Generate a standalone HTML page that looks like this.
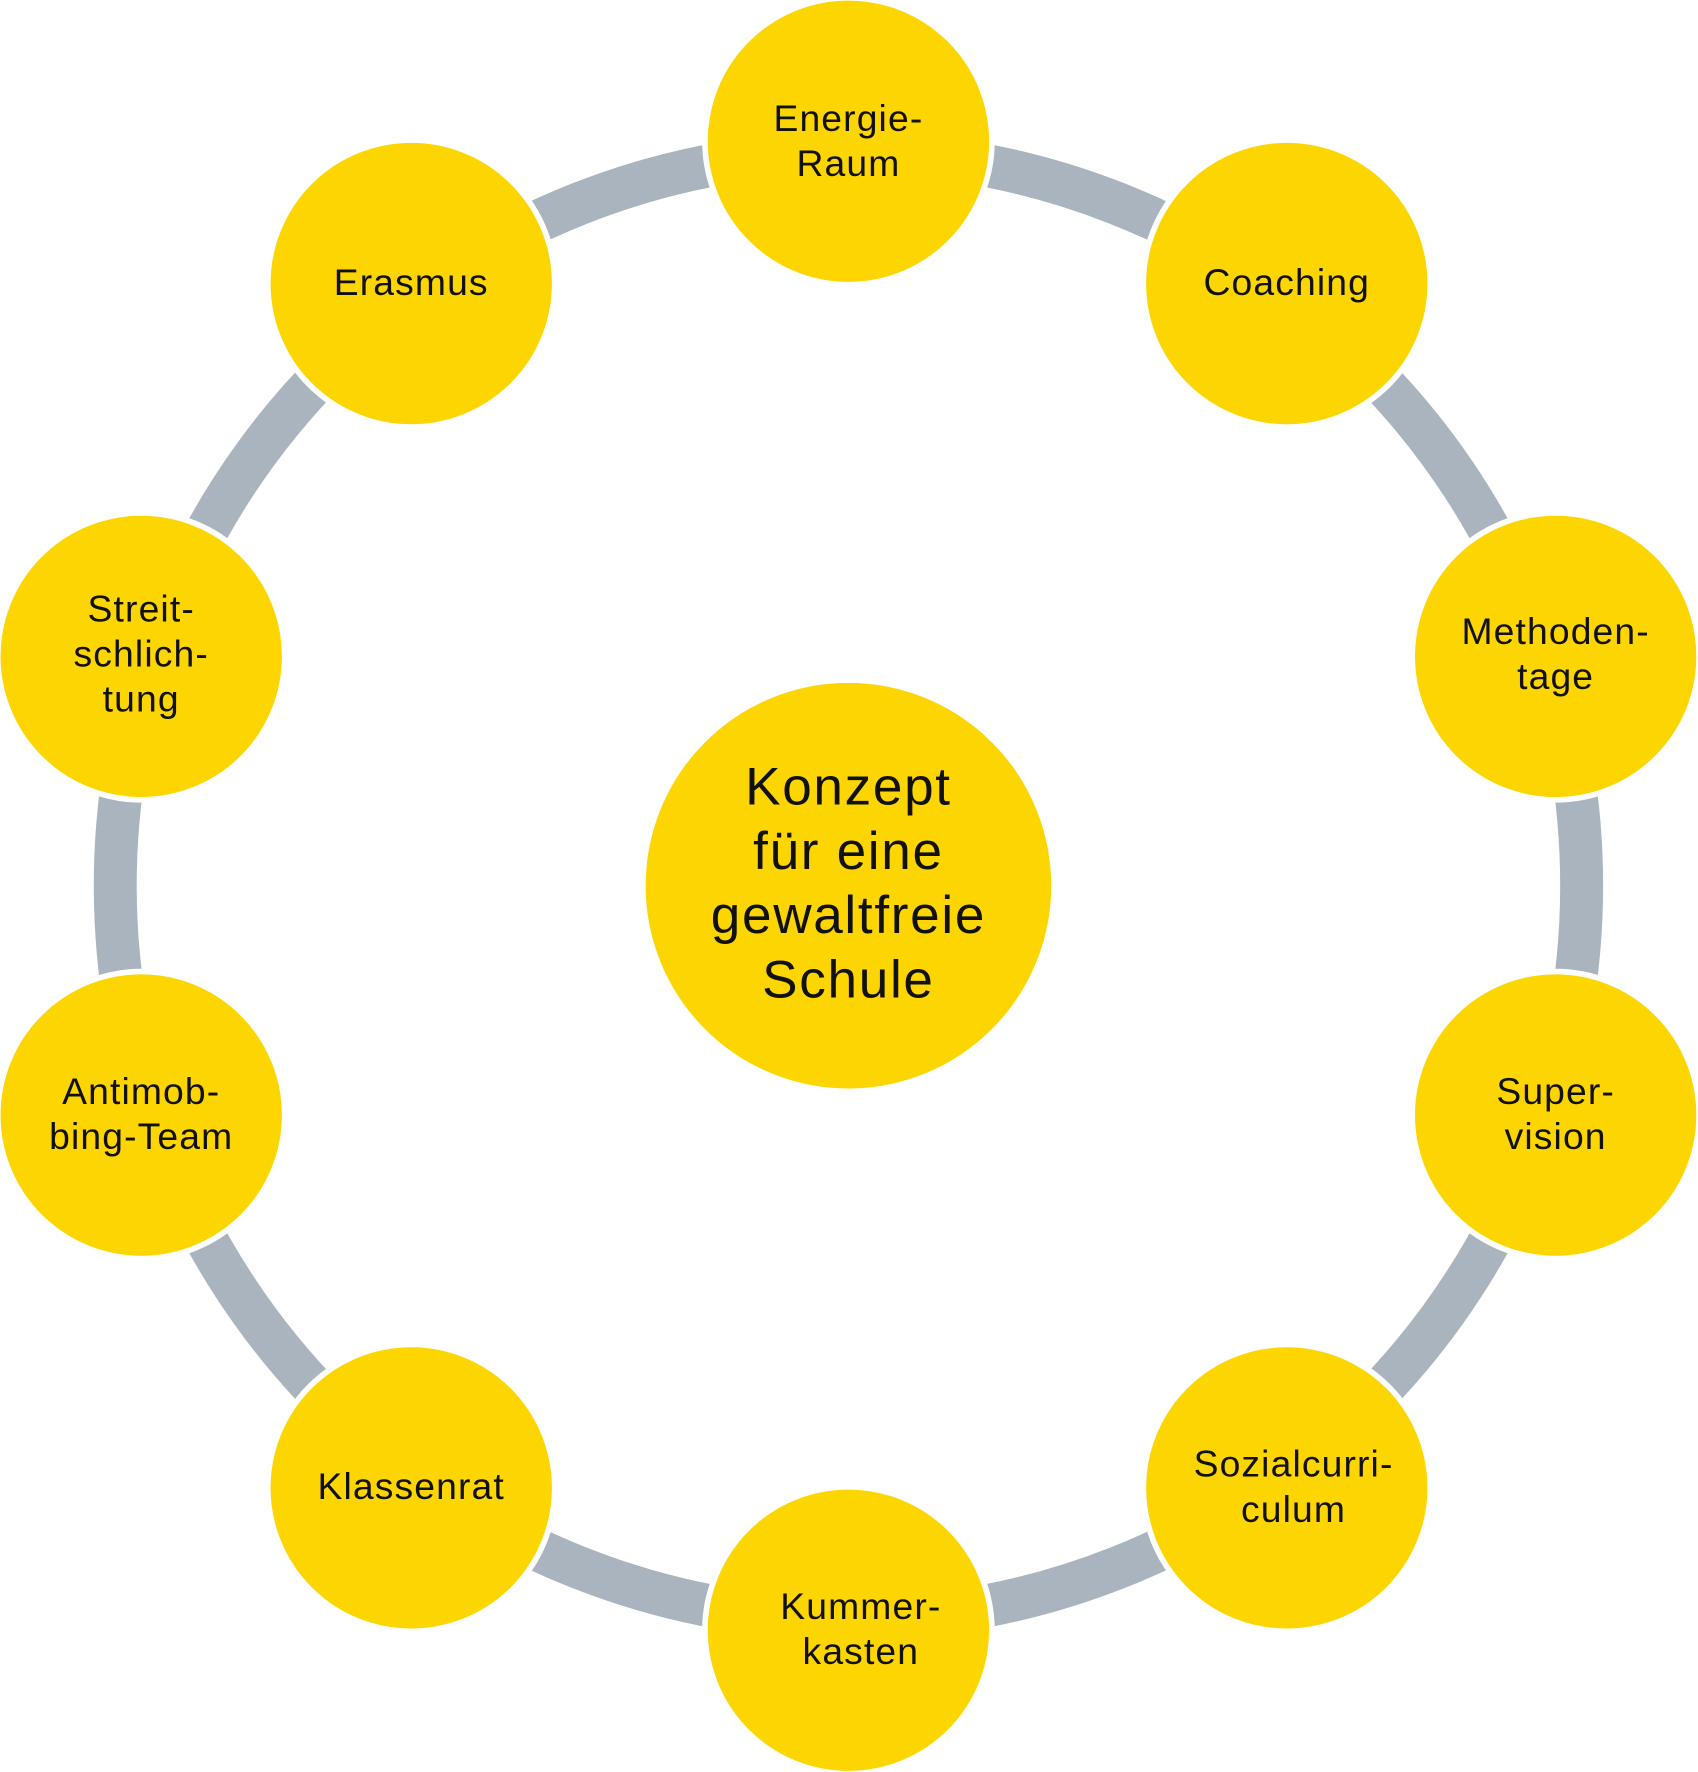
<!DOCTYPE html>
<html><head><meta charset="utf-8"><style>
html,body{margin:0;padding:0;background:#fff;}
svg{display:block;}
text{font-family:"Liberation Sans",sans-serif;fill:#111;text-anchor:middle;}
</style></head><body>
<svg width="1698" height="1772" viewBox="0 0 1503 1568.5" xmlns="http://www.w3.org/2000/svg">
<circle cx="751" cy="784" r="649" fill="none" stroke="#A9B4BF" stroke-width="38"/>
<g fill="#FDD500" stroke="#fff" stroke-width="5">
<circle cx="751" cy="784" r="182"/>
<circle cx="751" cy="125" r="127"/>
<circle cx="1139" cy="251" r="127"/>
<circle cx="1377" cy="581" r="127"/>
<circle cx="1377" cy="987" r="127"/>
<circle cx="1139" cy="1317" r="127"/>
<circle cx="751" cy="1443" r="127"/>
<circle cx="364" cy="1317" r="127"/>
<circle cx="125" cy="987" r="127"/>
<circle cx="125" cy="581" r="127"/>
<circle cx="364" cy="251" r="127"/>
</g>
<g font-size="47" letter-spacing="1.5">
<text x="751" y="712">Konzept</text>
<text x="751" y="769">für eine</text>
<text x="751" y="826">gewaltfreie</text>
<text x="751" y="883">Schule</text>
</g>
<g font-size="33" letter-spacing="1">
<text x="751" y="116">Energie-</text><text x="751" y="156">Raum</text>
<text x="1139" y="261">Coaching</text>
<text x="1377" y="570">Methoden-</text><text x="1377" y="610">tage</text>
<text x="1377" y="977">Super-</text><text x="1377" y="1017">vision</text>
<text x="1145" y="1307">Sozialcurri-</text><text x="1145" y="1347">culum</text>
<text x="762" y="1433">Kummer-</text><text x="762" y="1473">kasten</text>
<text x="364" y="1327">Klassenrat</text>
<text x="125" y="977">Antimob-</text><text x="125" y="1017">bing-Team</text>
<text x="125" y="550">Streit-</text><text x="125" y="590">schlich-</text><text x="125" y="630">tung</text>
<text x="364" y="261">Erasmus</text>
</g>
</svg>
</body></html>
